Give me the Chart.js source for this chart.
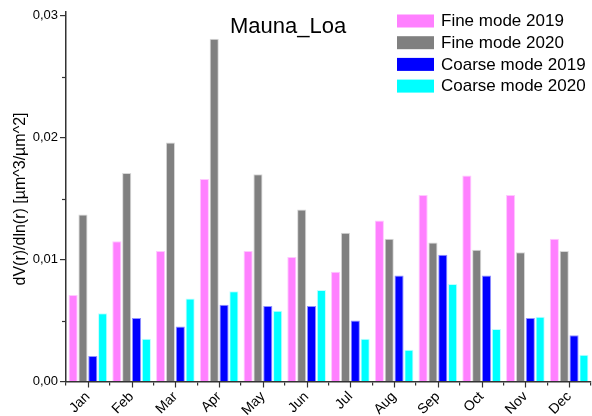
<!DOCTYPE html>
<html>
<head>
<meta charset="utf-8">
<script src="https://cdn.jsdelivr.net/npm/chart.js@4/dist/chart.umd.min.js"></script>
<style>
html,body{margin:0;padding:0;background:#fff;}
#wrap{width:592px;height:416px;position:relative;}
</style>
</head>
<body>
<div id="wrap"><canvas id="c" width="592" height="416"></canvas></div>
<script>
const months = ["Jan","Feb","Mar","Apr","May","Jun","Jul","Aug","Sep","Oct","Nov","Dec"];
const fine2019 = [0.0071, 0.0115, 0.0107, 0.0166, 0.0107, 0.0102, 0.0090, 0.0132, 0.0153, 0.0169, 0.0153, 0.0117];
const fine2020 = [0.0137, 0.0171, 0.0196, 0.0281, 0.0170, 0.0141, 0.0122, 0.0117, 0.0114, 0.0108, 0.0106, 0.0107];
const coarse2019 = [0.0021, 0.0052, 0.0045, 0.0063, 0.0062, 0.0062, 0.0050, 0.0087, 0.0104, 0.0087, 0.0052, 0.0038];
const coarse2020 = [0.0056, 0.0035, 0.0068, 0.0074, 0.0058, 0.0075, 0.0035, 0.0026, 0.0080, 0.0043, 0.0053, 0.0022];
const seriesNames = ["Fine mode 2019","Fine mode 2020","Coarse mode 2019","Coarse mode 2020"];
const yTicks = [0, 0.01, 0.02, 0.03];

const FONT = "'Liberation Sans', Arial, sans-serif";
const fills = ["#FF80FF","#808080","#0000FF","#00FFFF"];
const borders = ["#FFC8FF","#D8D8D8","#9090FF","#C0FFFF"];
const seriesData = [fine2019, fine2020, coarse2019, coarse2020];

const extras = {
  id: 'extras',
  afterDraw(chart) {
    const ctx = chart.ctx;
    const xs = chart.scales.x, ys = chart.scales.y;
    const area = chart.chartArea;
    ctx.save();
    ctx.strokeStyle = '#333';
    ctx.lineWidth = 1.2;
    months.forEach((m, i) => {
      const px = Math.round(xs.getPixelForValue(i)) + 0.5;
      ctx.beginPath();
      ctx.moveTo(px, area.bottom);
      ctx.lineTo(px, area.bottom + 6);
      ctx.stroke();
    });
    ys.ticks.forEach(t => {
      const isMajor = yTicks.some(v => Math.abs(v - t.value) < 1e-9);
      if (!isMajor) {
        const py = Math.round(ys.getPixelForValue(t.value)) + 0.5;
        ctx.beginPath();
        ctx.moveTo(area.left, py);
        ctx.lineTo(area.left - 4, py);
        ctx.stroke();
      }
    });
    ctx.fillStyle = '#000';
    ctx.font = '16px ' + FONT;
    ctx.textAlign = 'center';
    ctx.textBaseline = 'middle';
    ctx.translate(21, 199);
    ctx.rotate(-Math.PI / 2);
    ctx.fillText('dV(r)/dln(r) [µm^3/µm^2]', 0, 0);
    ctx.restore();

    ctx.save();
    ctx.fillStyle = '#000';
    ctx.font = '22px ' + FONT;
    ctx.textAlign = 'left';
    ctx.textBaseline = 'alphabetic';
    ctx.fillText('Mauna_Loa', 230, 33);
    ctx.restore();

    ctx.save();
    ctx.font = '17px ' + FONT;
    ctx.textBaseline = 'middle';
    ctx.textAlign = 'left';
    chart.data.datasets.forEach((ds, i) => {
      const cy = 21 + i * 21.7;
      ctx.fillStyle = ds.backgroundColor;
      ctx.fillRect(397, cy - 6.5, 37, 13);
      ctx.fillStyle = '#000';
      ctx.fillText(ds.label, 441, cy + 0.5);
    });
    ctx.restore();
  }
};

new Chart(document.getElementById('c'), {
  type: 'bar',
  data: {
    labels: months,
    datasets: seriesData.map((d, i) => ({
      label: seriesNames[i],
      data: d,
      backgroundColor: fills[i],
      borderColor: borders[i],
      borderWidth: 1,
      categoryPercentage: 0.9,
      barPercentage: 0.93
    }))
  },
  options: {
    responsive: false,
    animation: false,
    devicePixelRatio: 1,
    layout: { padding: { top: 12, right: 1, left: 0, bottom: 0 } },
    plugins: { legend: { display: false }, tooltip: { enabled: false }, title: { display: false } },
    scales: {
      x: {
        offset: true,
        grid: { display: true, drawOnChartArea: false, offset: true, tickLength: 4, color: '#333', lineWidth: 1.2 },
        border: { display: true, color: '#333', width: 1.5 },
        ticks: {
          color: '#000', font: { family: FONT, size: 14 },
          maxRotation: 45, minRotation: 45, padding: 3, autoSkip: false
        },
        afterFit(s) { s.height = 34.5; }
      },
      y: {
        min: 0, max: 0.0303,
        grid: {
          display: true, drawOnChartArea: false, drawTicks: true, tickLength: 6, lineWidth: 1.2,
          tickColor: (c) => (c.tick && yTicks.some(v => Math.abs(v - c.tick.value) < 1e-9)) ? '#333' : 'rgba(0,0,0,0)'
        },
        border: { display: true, color: '#333', width: 1.5 },
        ticks: {
          stepSize: 0.005, includeBounds: false, color: '#000', padding: 2,
          font: { family: FONT, size: 13 },
          callback: (v) => yTicks.some(t => Math.abs(t - v) < 1e-9) ? v.toFixed(2).replace('.', ',') : ''
        },
        afterFit(s) { s.width = 66; }
      }
    }
  },
  plugins: [extras]
});
</script>
</body>
</html>
